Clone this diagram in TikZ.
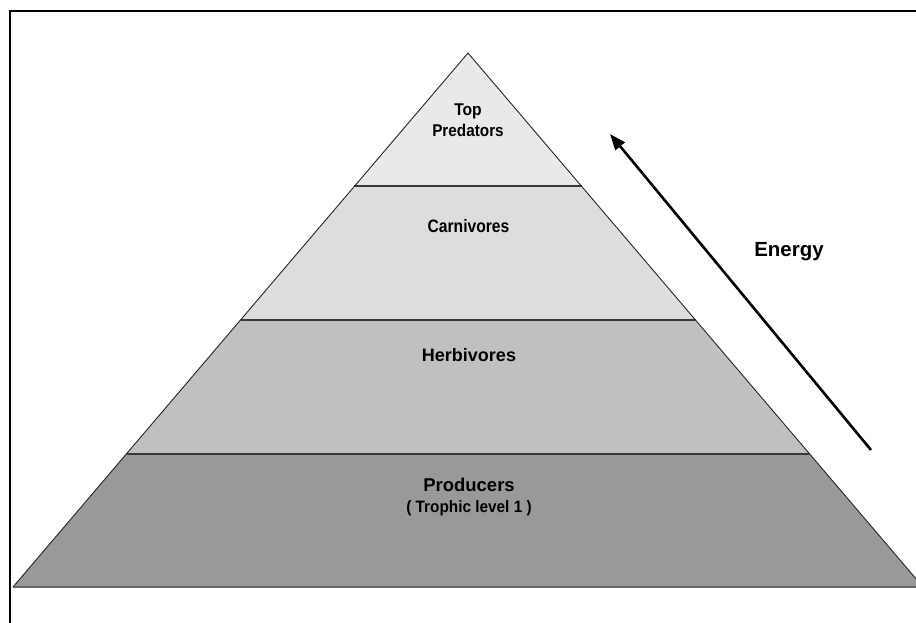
\documentclass[tikz,border=0pt]{standalone}
\usepackage{fontspec}
\setmainfont{Liberation Sans}
\usetikzlibrary{calc,arrows.meta}
\definecolor{lvltop}{HTML}{E9E9E9}
\definecolor{lvlcarn}{HTML}{DDDDDD}
\definecolor{lvlherb}{HTML}{C0C0C0}
\definecolor{lvlprod}{HTML}{999999}
\definecolor{divline}{HTML}{383838}
\tikzset{
  divider/.style={draw=divline, line width=2pt},
  outline/.style={draw=black!85, line width=0.9pt},
  lbl/.style={inner sep=0pt, anchor=base, font=\bfseries},
  frameline/.style={draw=black, line width=2pt},
  energyarrow/.style={line width=2.6pt, -{Triangle[length=16pt,width=12pt]}}
}
\begin{document}
\begin{tikzpicture}[x=1pt,y=-1pt]
\useasboundingbox (0,0) rectangle (916,623);
\clip (0,0) rectangle (916,623);
\fill[white] (0,0) rectangle (916,623);
% frame
\draw[frameline] (10,11) rectangle (940,650);
% pyramid corners
\coordinate (A) at (468,53);
\coordinate (BL) at (13,587);
\coordinate (BR) at (923,587);
\coordinate (L1) at ($(A)!0.25!(BL)$);
\coordinate (R1) at ($(A)!0.25!(BR)$);
\coordinate (L2) at ($(A)!0.5!(BL)$);
\coordinate (R2) at ($(A)!0.5!(BR)$);
\coordinate (L3) at ($(A)!0.75!(BL)$);
\coordinate (R3) at ($(A)!0.75!(BR)$);
% levels
\fill[lvltop] (A) -- (R1) -- (L1) -- cycle;
\fill[lvlcarn] (L1) -- (R1) -- (R2) -- (L2) -- cycle;
\fill[lvlherb] (L2) -- (R2) -- (R3) -- (L3) -- cycle;
\fill[lvlprod] (L3) -- (R3) -- (BR) -- (BL) -- cycle;
% dividers
\draw[divider] (L1) -- (R1);
\draw[divider] (L2) -- (R2);
\draw[divider] (L3) -- (R3);
\draw[draw=black!60, line width=2pt] (BL) -- (BR);
\draw[outline] (BL) -- (A) -- (BR);
% labels
\node[lbl, font=\bfseries\fontsize{17}{18}\selectfont] (toplbl) at (468,116) {\scalebox{0.92}[1]{Top}};
\node[lbl, font=\bfseries\fontsize{17}{18}\selectfont] (predlbl) at (468,137) {\scalebox{0.9}[1]{Predators}};
\node[lbl, font=\bfseries\fontsize{18}{18}\selectfont] (carnlbl) at (468.5,232) {\scalebox{0.87}[1]{Carnivores}};
\node[lbl, font=\bfseries\fontsize{18}{20}\selectfont] (herblbl) at (469,361) {Herbivores};
\node[lbl, font=\bfseries\fontsize{18.5}{20}\selectfont] (prodlbl) at (469,491) {Producers};
\node[lbl, font=\bfseries\fontsize{16.5}{18}\selectfont] (troplbl) at (469,512) {\scalebox{0.93}[1]{( Trophic level 1 )}};
\node[lbl, font=\bfseries\fontsize{20.5}{22}\selectfont] (energylbl) at (789,256.5) {Energy};
% arrow
\coordinate (ea) at (871,450);
\coordinate (eb) at (610,134);
\draw[energyarrow] (ea) -- (eb);
\end{tikzpicture}
\end{document}
